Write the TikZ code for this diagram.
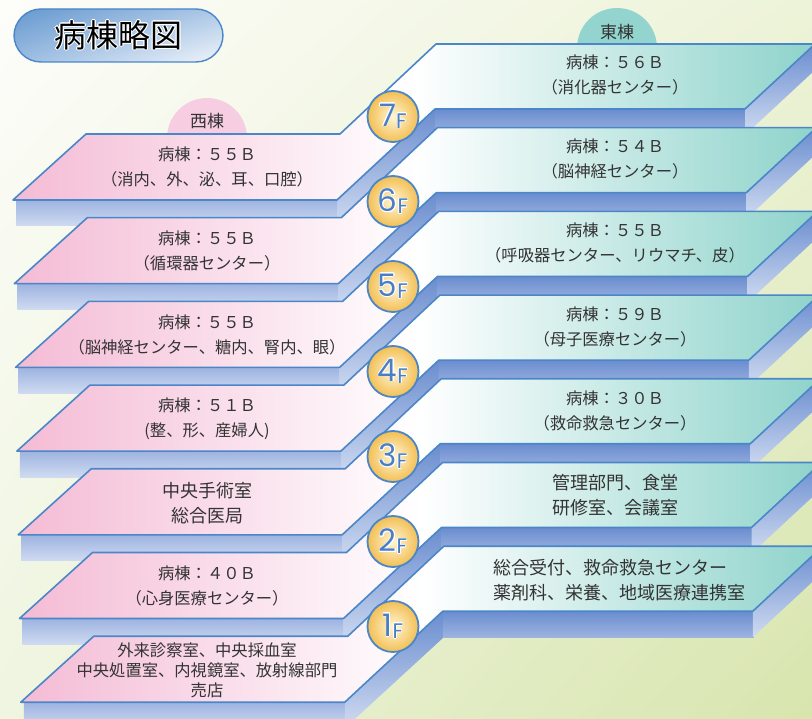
\documentclass[tikz,border=0pt]{standalone}
\usepackage{fontspec}
\setmainfont{Noto Sans CJK JP}
\newfontfamily\numfont{Poppins}
\usepackage[copies]{contour}
\usetikzlibrary{positioning,shadings}

\definecolor{edgeblue}{HTML}{4A86C8}
\definecolor{westpink}{HTML}{F4BBD5}
\definecolor{eastteal}{HTML}{8ED3CB}
\definecolor{sidedark}{HTML}{6A8DCF}
\definecolor{sidemid}{HTML}{9DB3E0}
\definecolor{sidelight}{HTML}{D0DBF1}
\definecolor{txtgray}{HTML}{333333}
\definecolor{numblue}{HTML}{4A80C3}
\definecolor{goldin}{HTML}{FFF6D8}
\definecolor{goldout}{HTML}{F3BF53}
\definecolor{tabpink}{HTML}{F6CDE1}
\definecolor{tabteal}{HTML}{93D5CE}
\definecolor{bgtl}{HTML}{FDFDFA}
\definecolor{bgtr}{HTML}{EDF3D8}
\definecolor{bgbl}{HTML}{EFF5E0}
\definecolor{bgbr}{HTML}{D8E5AE}

\newcommand{\flabel}[1]{\contour{white}{\numfont\fontsize{31}{31}\selectfont #1\fontsize{21}{21}\selectfont\raisebox{-2pt}{F}}}
\contourlength{0.6pt}

\begin{document}
\begin{tikzpicture}[x=1pt, y=-1pt,
        floorball/.style={circle, draw=edgeblue, line width=1.8pt, inner color=goldin, outer color=goldout,
          minimum size=51pt, inner sep=0pt, text=numblue},
        floortext/.style={text=txtgray, align=center, font=\fontsize{16.3}{25}\selectfont},
        bigtext/.style={text=txtgray, align=center, font=\fontsize{18}{25}\selectfont},
        tabtext/.style={text=txtgray, font=\fontsize{17}{20}\selectfont},
        wingtab/.style={circle, minimum size=80pt, inner sep=0pt},
        slab/.style={draw=edgeblue, line width=1.6pt, line join=round,
          left color=westpink, right color=eastteal, middle color=white}]
  \useasboundingbox (0,0) rectangle (812,719);
  \clip (0,0) rectangle (812,719);
  % background
  \shade[upper left=bgtl, upper right=bgtr, lower left=bgbl, lower right=bgbr] (0,0) rectangle (812,719);

  % title
  \node[draw=edgeblue, line width=1.4pt, rounded corners=27pt, minimum width=209pt, minimum height=53pt,
    upper left=edgeblue!85, upper right=edgeblue!45, lower left=edgeblue!55, lower right=edgeblue!8]
    (title) at (118.5,35.5) {\fontsize{32}{32}\selectfont\contour{white}{病棟略図}};

  % wing tabs
  \node[wingtab, fill=tabpink] (westtab) at (207,138) {};
  \node[wingtab, fill=tabteal] (easttab) at (617,48) {};
  \node[tabtext] (westlbl) at (207,121) {西棟};
  \node[tabtext] (eastlbl) at (617,32) {東棟};

  % floors, top one first
  \foreach \i in {0,...,6} {
    \begin{scope}[shift={(1.3*\i,83.7*\i)}]
      \shade[top color=sidemid, bottom color=sidelight] (16,200) rectangle (338,226);
      \shade[top color=sidedark, bottom color=sidelight] (337,200) -- (435,109) -- (436,135) -- (337,226) -- cycle;
      \shade[top color=sidedark, bottom color=sidemid] (435,109) rectangle (746,135);
      \shade[top color=sidedark, bottom color=sidelight] (745,109) -- (815,44) -- (815,70) -- (745,135) -- cycle;
      \path[slab] (13,200) -- (86,134) -- (340,134) -- (436,44) -- (815,44)
        -- (745,109) -- (435,109) -- (337,200) -- cycle;
    \end{scope}
  }

  % west wing
  \node[floortext] (w7) at (207,167) {病棟：５５Ｂ\\（消内、外、泌、耳、口腔）};
  \node[floortext] (w6) at (207,251) {病棟：５５Ｂ\\（循環器センター）};
  \node[floortext] (w5) at (207,335) {病棟：５５Ｂ\\（脳神経センター、糖内、腎内、眼）};
  \node[floortext] (w4) at (207,419) {病棟：５１Ｂ\\(整、形、産婦人)};
  \node[bigtext] (w3) at (207,503) {中央手術室\\総合医局};
  \node[floortext] (w2) at (207,586) {病棟：４０Ｂ\\（心身医療センター）};
  \node[floortext, font=\fontsize{16.3}{20}\selectfont] (w1) at (207,670)
    {外来診察室、中央採血室\\中央処置室、内視鏡室、放射線部門\\売店};

  % east wing
  \node[floortext] (e7) at (615,75) {病棟：５６Ｂ\\（消化器センター）};
  \node[floortext] (e6) at (615,159) {病棟：５４Ｂ\\（脳神経センター）};
  \node[floortext] (e5) at (615,243) {病棟：５５Ｂ\\（呼吸器センター、リウマチ、皮）};
  \node[floortext] (e4) at (615,327) {病棟：５９Ｂ\\（母子医療センター）};
  \node[floortext] (e3) at (615,411) {病棟：３０Ｂ\\（救命救急センター）};
  \node[bigtext] (e2) at (615,495) {管理部門、食堂\\研修室、会議室};
  \node[bigtext, align=left, anchor=west] (e1) at (490,580) {総合受付、救命救急センター\\薬剤科、栄養、地域医療連携室};

  % floor numbers
  \foreach \i/\fl in {0/7,1/6,2/5,3/4,4/3,5/2,6/1}
    \node[floorball] (f\fl) at (393,116.5+85*\i) {\flabel{\fl}};
\end{tikzpicture}
\end{document}
